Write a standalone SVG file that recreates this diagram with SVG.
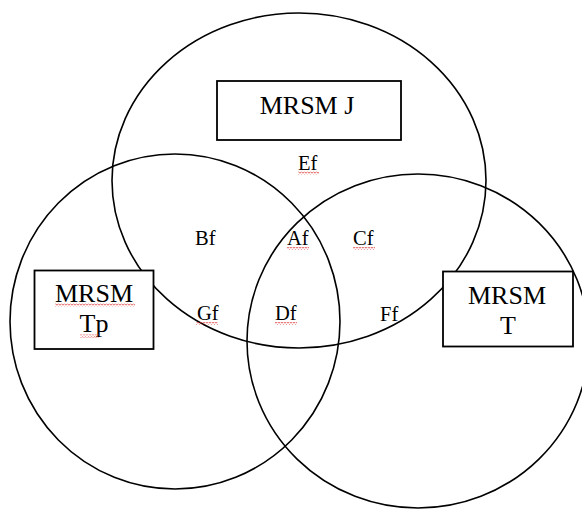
<svg xmlns="http://www.w3.org/2000/svg" width="582" height="509" viewBox="0 0 582 509">
<style>
.c{fill:none;stroke:#000;stroke-width:1.6}
.b{fill:#fff;stroke:#000;stroke-width:1.8}
.t{font-family:"Liberation Serif","Times New Roman",serif;fill:#000}
.big{font-size:26px}
.sm{font-size:20.5px}
.sq{fill:url(#sq)}
</style>
<defs>
<pattern id="sq" patternUnits="userSpaceOnUse" width="3" height="3">
<path d="M0 2.2 L1.5 0.8 L3 2.2" fill="none" stroke="#e03030" stroke-width="0.8"/>
</pattern>
</defs>
<rect width="582" height="509" fill="#fff"/>
<g id="connectors">
<ellipse class="c" cx="299" cy="180.5" rx="187" ry="167.5"/>
<ellipse class="c" cx="175" cy="321.5" rx="165" ry="167.5"/>
<ellipse class="c" cx="418" cy="341" rx="171" ry="167"/>
</g>
<g id="node-mrsm-j">
<rect class="b" x="217" y="81" width="184" height="59"/>
<text class="t big" x="307" y="114" text-anchor="middle">MRSM J</text>
</g>
<g id="node-mrsm-tp">
<rect class="b" x="34.5" y="270.5" width="119" height="78.5"/>
<text class="t big" x="94" y="302" text-anchor="middle">MRSM</text>
<text class="t big" x="94" y="332" text-anchor="middle">Tp</text>
<rect class="sq" x="55" y="303.5" width="80" height="3"/>
<rect class="sq" x="80" y="334.5" width="19" height="3"/>
</g>
<g id="node-mrsm-t">
<rect class="b" x="443" y="271.5" width="130" height="75"/>
<text class="t big" x="507" y="304" text-anchor="middle">MRSM</text>
<text class="t big" x="508" y="334" text-anchor="middle">T</text>
</g>
<g id="labels">
<text class="t sm" x="298" y="170">Ef</text>
<rect class="sq" x="298" y="171.5" width="21" height="3"/>
<text class="t sm" x="195" y="245">Bf</text>
<text class="t sm" x="287" y="245">Af</text>
<rect class="sq" x="287" y="247" width="22" height="3"/>
<text class="t sm" x="353" y="245">Cf</text>
<rect class="sq" x="353" y="247" width="22" height="3"/>
<text class="t sm" x="197" y="320">Gf</text>
<rect class="sq" x="196" y="322" width="22" height="3"/>
<text class="t sm" x="275" y="320">Df</text>
<rect class="sq" x="275" y="322" width="22" height="3"/>
<text class="t sm" x="380" y="321">Ff</text>
</g>
</svg>
